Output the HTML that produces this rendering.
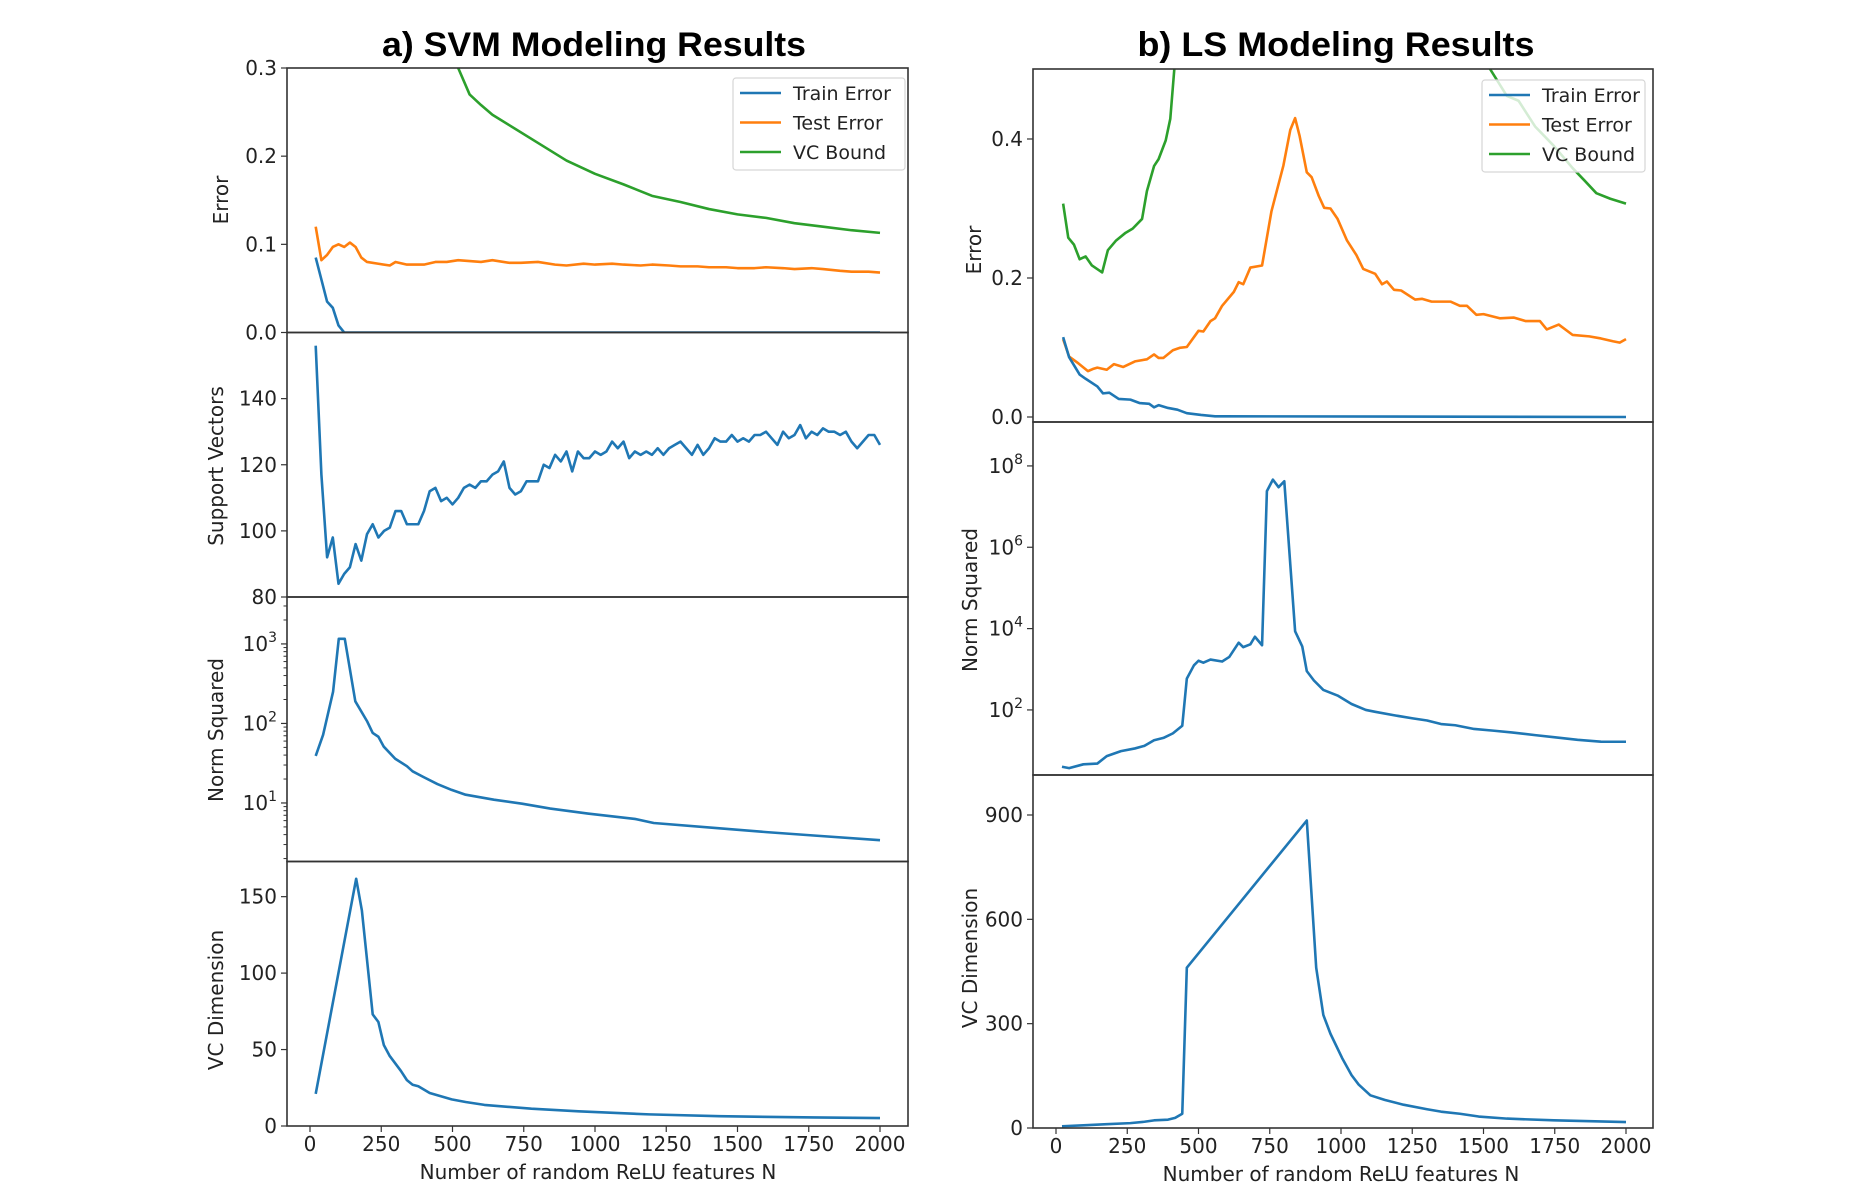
<!DOCTYPE html>
<html><head><meta charset="utf-8"><style>
html,body{margin:0;padding:0;background:#fff;}
svg{display:block;font-family:"DejaVu Sans","Liberation Sans",sans-serif;}
</style></head><body>
<svg id="fig" width="1867" height="1200" viewBox="0 0 1867 1200"></svg>
<script>
// ---- shared categories ----
const svN = [20,40,60,80,100,120,140,160,180,200,220,240,260,280,300,320,340,360,380,400,420,440,460,480,500,520,540,560,580,600,620,640,660,680,700,720,740,760,780,800,820,840,860,880,900,920,940,960,980,1000,1020,1040,1060,1080,1100,1120,1140,1160,1180,1200,1220,1240,1260,1280,1300,1320,1340,1360,1380,1400,1420,1440,1460,1480,1500,1520,1540,1560,1580,1600,1620,1640,1660,1680,1700,1720,1740,1760,1780,1800,1820,1840,1860,1880,1900,1920,1940,1960,1980,2000];
const xTicks = [0,250,500,750,1000,1250,1500,1750,2000];

// ---- SVM panel data ----
const svmTrainN = [20,40,60,80,100,120,2000];
const svmTrainY = [0.085,0.06,0.035,0.028,0.008,0.0,0.0];
const svmTestN = [20,40,60,80,100,120,140,160,180,200,240,280,300,340,400,440,480,520,560,600,640,700,740,800,860,900,960,1000,1060,1100,1160,1200,1260,1300,1360,1400,1460,1500,1560,1600,1660,1700,1760,1800,1860,1900,1960,2000];
const svmTestY = [0.12,0.082,0.088,0.097,0.1,0.097,0.102,0.097,0.085,0.08,0.078,0.076,0.08,0.077,0.077,0.08,0.08,0.082,0.081,0.08,0.082,0.079,0.079,0.08,0.077,0.076,0.078,0.077,0.078,0.077,0.076,0.077,0.076,0.075,0.075,0.074,0.074,0.073,0.073,0.074,0.073,0.072,0.073,0.072,0.07,0.069,0.069,0.068];
const svmBoundN = [460,520,560,600,640,700,800,900,1000,1100,1200,1300,1400,1500,1600,1700,1800,1900,2000];
const svmBoundY = [0.34,0.3,0.27,0.258,0.247,0.235,0.215,0.195,0.18,0.168,0.155,0.148,0.14,0.134,0.13,0.124,0.12,0.116,0.113];
const svmSV = [156,117,92,98,84,87,89,96,91,99,
102,98,100,101,106,106,102,102,102,106,
112,113,109,110,108,110,113,114,113,115,
115,117,118,121,113,111,112,115,115,115,
120,119,123,121,124,118,124,122,122,124,
123,124,127,125,127,122,124,123,124,123,
125,123,125,126,127,125,123,126,123,125,
128,127,127,129,127,128,127,129,129,130,
128,126,130,128,129,132,128,130,129,131,
130,130,129,130,127,125,127,129,129,126];
const svmNormN = [20,46,81,101,122,159,200,220,240,259,299,340,360,398,447,497,546,645,744,843,975,1140,1206,1437,1602,1767,2000];
const svmNormY = [39,72,251,1160,1160,190,107,76,68,51,36,29,25,21.2,17.3,14.6,12.7,11,9.8,8.5,7.35,6.3,5.6,4.8,4.3,3.9,3.4];
const svmVCN = [20,162,182,220,240,259,279,319,340,360,380,420,497,546,612,777,942,1190,1437,1767,2000];
const svmVCY = [21,161.7,141,73,68,53,46,36,30,27,26,21.6,17.4,15.7,13.8,11.3,9.6,7.6,6.4,5.6,5.2];

// ---- LS panel data ----
const lsTrainN = [25,46,83,104,145,165,187,220,261,294,327,344,360,393,426,459,509,558,591,2000];
const lsTrainY = [0.115,0.086,0.061,0.055,0.044,0.034,0.035,0.026,0.025,0.02,0.019,0.014,0.017,0.013,0.0105,0.0055,0.003,0.001,0.001,0.0];
const lsTestN = [25,46,79,112,129,145,178,203,236,277,319,344,360,377,410,434,459,500,517,542,558,583,624,641,657,682,723,756,798,822,839,855,880,897,922,941,963,988,1021,1054,1078,1120,1144,1161,1186,1211,1260,1285,1318,1384,1417,1442,1475,1500,1557,1607,1648,1698,1722,1764,1813,1871,1912,1954,1978,2000];
const lsTestY = [0.112,0.087,0.077,0.066,0.069,0.071,0.068,0.076,0.072,0.08,0.083,0.09,0.085,0.085,0.096,0.0995,0.1007,0.124,0.123,0.138,0.142,0.16,0.18,0.194,0.191,0.215,0.218,0.296,0.362,0.413,0.43,0.404,0.352,0.345,0.318,0.301,0.3,0.285,0.254,0.233,0.213,0.206,0.191,0.195,0.183,0.182,0.169,0.17,0.166,0.166,0.16,0.16,0.147,0.148,0.142,0.143,0.138,0.138,0.126,0.133,0.118,0.116,0.113,0.109,0.107,0.112];
const lsBoundN = [25,43,63,83,104,126,162,182,211,244,269,302,319,344,360,385,401,415,425];
const lsBoundY = [0.307,0.258,0.248,0.227,0.231,0.218,0.208,0.24,0.254,0.265,0.271,0.285,0.325,0.361,0.371,0.398,0.429,0.5,0.6];
const lsBound2N = [1480,1524,1582,1623,1681,1747,1813,1855,1896,1945,2000];
const lsBound2Y = [0.54,0.5,0.462,0.455,0.418,0.39,0.358,0.34,0.322,0.314,0.307];
const lsNormN = [21,46,96,145,178,228,277,310,344,377,410,443,459,484,500,517,542,583,608,641,657,682,698,723,740,761,781,801,839,864,880,905,938,988,1037,1087,1120,1186,1252,1302,1351,1401,1467,1533,1599,1681,1747,1830,1912,2000];
const lsNormY = [4.0,3.7,4.6,4.8,7.3,9.7,11.3,13.1,18,20.5,26.5,40.8,590,1250,1620,1450,1730,1550,2010,4500,3500,4100,6300,3900,2.4e7,4.6e7,3.0e7,4.2e7,8600,3650,900,530,310,226,140,100,90,74,62,55,45,42,34,31,28,24,21.4,18.4,16.6,16.5];
const lsVCN = [21,96,178,261,310,344,393,418,443,459,880,913,938,963,1004,1037,1062,1103,1153,1219,1302,1351,1417,1483,1582,1747,2000];
const lsVCY = [5,7.6,11,14,18,22,24,29,41,461,884,461,325,271,201,152,125,94,81,67,54,47,41,33,27,22,17];

const NS = 'http://www.w3.org/2000/svg';
const svg = document.getElementById('fig');
const C = {blue:'#1f77b4', orange:'#ff7f0e', green:'#2ca02c', axis:'#333'};

function mk(tag, attrs, parent) {
  const e = document.createElementNS(NS, tag);
  for (const k in attrs) e.setAttribute(k, attrs[k]);
  (parent || svg).appendChild(e);
  return e;
}
function linX(x0, x1, p0, p1) { return v => p0 + (v - x0) / (x1 - x0) * (p1 - p0); }
function linY(y0, y1, top, bot) { return v => bot - (v - y0) / (y1 - y0) * (bot - top); }
function logY(l0, l1, top, bot) { return v => bot - (Math.log10(v) - l0) / (l1 - l0) * (bot - top); }

let clipId = 0;
function panel(name, L, R, T, B) {
  const id = 'clip' + (clipId++);
  const cp = mk('clipPath', {id: id});
  mk('rect', {x: L, y: T, width: R - L, height: B - T}, cp);
  const g = mk('g', {'clip-path': 'url(#' + id + ')'});
  
  
  return g;
}
function frame(name, L, R, T, B) {
  const r = mk('rect', {x: L, y: T, width: R - L, height: B - T, fill: 'none', stroke: C.axis, 'stroke-width': 1.6});
  
  
}
function series(g, name, xs, ys, fx, fy, color) {
  let d = '';
  for (let i = 0; i < xs.length; i++) d += (i ? 'L' : 'M') + fx(xs[i]).toFixed(2) + ' ' + fy(ys[i]).toFixed(2);
  const p = mk('path', {d: d, fill: 'none', stroke: color, 'stroke-width': 2.6, 'stroke-linejoin': 'round'}, g);
  
  
}
function yTick(name, L, y, label, sup) {
  mk('line', {x1: L - 6, x2: L, y1: y, y2: y, stroke: C.axis, 'stroke-width': 1.2});
  const t = mk('text', {x: L - 10, y: y + 7, 'text-anchor': 'end', 'font-size': 20, fill: '#222'});
  
  
  if (sup !== undefined) {
    t.textContent = label;
    const s = mk('tspan', {'font-size': 14, dy: -9}, t);
    s.textContent = sup;
  } else t.textContent = label;
}
function minorTick(L, y) { mk('line', {x1: L - 3.5, x2: L, y1: y, y2: y, stroke: C.axis, 'stroke-width': 1}); }
function xAxis(name, fx, B) {
  for (const v of xTicks) {
    const x = fx(v);
    mk('line', {x1: x, x2: x, y1: B, y2: B + 6, stroke: C.axis, 'stroke-width': 1.2});
    const t = mk('text', {x: x, y: B + 25, 'text-anchor': 'middle', 'font-size': 20, fill: '#222'});
    
    
    t.textContent = v;
  }
}
function yLabel(name, x, yc, text) {
  const t = mk('text', {x: x, y: yc, 'text-anchor': 'middle', 'font-size': 20, fill: '#222', transform: 'rotate(-90 ' + x + ' ' + yc + ')'});
  
  
  t.textContent = text;
}
function legend(name, x0, y0, w, rows) {
  const g = mk('g', {});
  
  
  mk('rect', {x: x0, y: y0, width: w, height: 92, rx: 3, fill: 'rgba(255,255,255,0.8)', stroke: '#d6d6d6', 'stroke-width': 1.2}, g);
  rows.forEach((r, i) => {
    const y = y0 + 15 + i * 29.5;
    const ln = mk('line', {x1: x0 + 7, x2: x0 + 48, y1: y, y2: y, stroke: r[1], 'stroke-width': 2.6}, g);
    
    
    const t = mk('text', {x: x0 + 60, y: y + 7, 'font-size': 19, fill: '#222'}, g);
    
    
    t.textContent = r[0];
  });
}
function title(name, x, text, len) {
  const t = mk('text', {x: x, y: 56, 'text-anchor': 'middle', 'font-size': 34, 'font-weight': 'bold', 'font-family': '"Liberation Sans", sans-serif', fill: '#000', textLength: len, lengthAdjust: 'spacingAndGlyphs'});
  
  
  t.textContent = text;
}

// ======== Left (SVM) ========
const aL = 287, aR = 908;
const aY = [68, 332.5, 597, 861.5, 1126];
const fxA = linX(0, 2000, 310, 880);
title('svm-title', 594, 'a) SVM Modeling Results', 424);

let fy = linY(0, 0.3, aY[0], aY[1]);
let g = panel('svm-error', aL, aR, aY[0], aY[1]);
series(g, 'svm-vc-bound-line', svmBoundN, svmBoundY, fxA, fy, C.green);
series(g, 'svm-test-error-line', svmTestN, svmTestY, fxA, fy, C.orange);
series(g, 'svm-train-error-line', svmTrainN, svmTrainY, fxA, fy, C.blue);
[0, 0.1, 0.2, 0.3].forEach(v => yTick('svm-error-tick', aL, fy(v), v.toFixed(1)));
yLabel('svm-error-y-label', 228, 200, 'Error');
legend('svm-legend', 733, 78, 172, [['Train Error', C.blue], ['Test Error', C.orange], ['VC Bound', C.green]]);

fy = linY(80, 160, aY[1], aY[2]);
g = panel('svm-sv', aL, aR, aY[1], aY[2]);
series(g, 'svm-support-vectors-line', svN, svmSV, fxA, fy, C.blue);
[80, 100, 120, 140].forEach(v => yTick('svm-sv-tick', aL, fy(v), String(v)));
yLabel('svm-sv-y-label', 223, 466, 'Support Vectors');

fy = logY(0.264, 3.59, aY[2], aY[3]);
g = panel('svm-norm', aL, aR, aY[2], aY[3]);
series(g, 'svm-norm-line', svmNormN, svmNormY, fxA, fy, C.blue);
for (let d = 0; d <= 3; d++) for (let m = 2; m <= 9; m++) {
  const v = m * Math.pow(10, d); const y = fy(v);
  if (y > aY[2] && y < aY[3]) minorTick(aL, y);
}
[1, 2, 3].forEach(e => yTick('svm-norm-tick', aL, fy(Math.pow(10, e)), '10', String(e)));
yLabel('svm-norm-y-label', 223, 730, 'Norm Squared');

fy = linY(0, 173, aY[3], aY[4]);
g = panel('svm-vc', aL, aR, aY[3], aY[4]);
series(g, 'svm-vc-dimension-line', svmVCN, svmVCY, fxA, fy, C.blue);
[0, 50, 100, 150].forEach(v => yTick('svm-vc-tick', aL, fy(v), String(v)));
yLabel('svm-vc-y-label', 223, 1000, 'VC Dimension');
for (let i = 0; i < 4; i++) frame('svm-panel-' + i, aL, aR, aY[i], aY[i + 1]);
xAxis('svm-x', fxA, aY[4]);
let xl = mk('text', {x: 598, y: 1179, 'text-anchor': 'middle', 'font-size': 20, fill: '#222'});


xl.textContent = 'Number of random ReLU features N';

// ======== Right (LS) ========
const bL = 1033, bR = 1653;
const bY = [69, 422, 775, 1128];
const fxB = linX(0, 2000, 1056, 1626);
title('ls-title', 1336, 'b) LS Modeling Results', 397);

fy = linY(-0.0072, 0.5007, bY[0], bY[1]);
g = panel('ls-error', bL, bR, bY[0], bY[1]);
series(g, 'ls-vc-bound-line', lsBoundN, lsBoundY, fxB, fy, C.green);
series(g, 'ls-vc-bound-line-tail', lsBound2N, lsBound2Y, fxB, fy, C.green);
series(g, 'ls-test-error-line', lsTestN, lsTestY, fxB, fy, C.orange);
series(g, 'ls-train-error-line', lsTrainN, lsTrainY, fxB, fy, C.blue);
[0, 0.2, 0.4].forEach(v => yTick('ls-error-tick', bL, fy(v), v.toFixed(1)));
yLabel('ls-error-y-label', 981, 250, 'Error');
legend('ls-legend', 1482, 80, 163, [['Train Error', C.blue], ['Test Error', C.orange], ['VC Bound', C.green]]);

fy = logY(0.40, 9.08, bY[1], bY[2]);
g = panel('ls-norm', bL, bR, bY[1], bY[2]);
series(g, 'ls-norm-line', lsNormN, lsNormY, fxB, fy, C.blue);
[2, 4, 6, 8].forEach(e => yTick('ls-norm-tick', bL, fy(Math.pow(10, e)), '10', String(e)));
yLabel('ls-norm-y-label', 977, 600, 'Norm Squared');

fy = linY(0, 1015, bY[2], bY[3]);
g = panel('ls-vc', bL, bR, bY[2], bY[3]);
series(g, 'ls-vc-dimension-line', lsVCN, lsVCY, fxB, fy, C.blue);
[0, 300, 600, 900].forEach(v => yTick('ls-vc-tick', bL, fy(v), String(v)));
yLabel('ls-vc-y-label', 977, 958, 'VC Dimension');
for (let i = 0; i < 3; i++) frame('ls-panel-' + i, bL, bR, bY[i], bY[i + 1]);
xAxis('ls-x', fxB, bY[3]);
xl = mk('text', {x: 1341, y: 1181, 'text-anchor': 'middle', 'font-size': 20, fill: '#222'});


xl.textContent = 'Number of random ReLU features N';
</script>
</body></html>
